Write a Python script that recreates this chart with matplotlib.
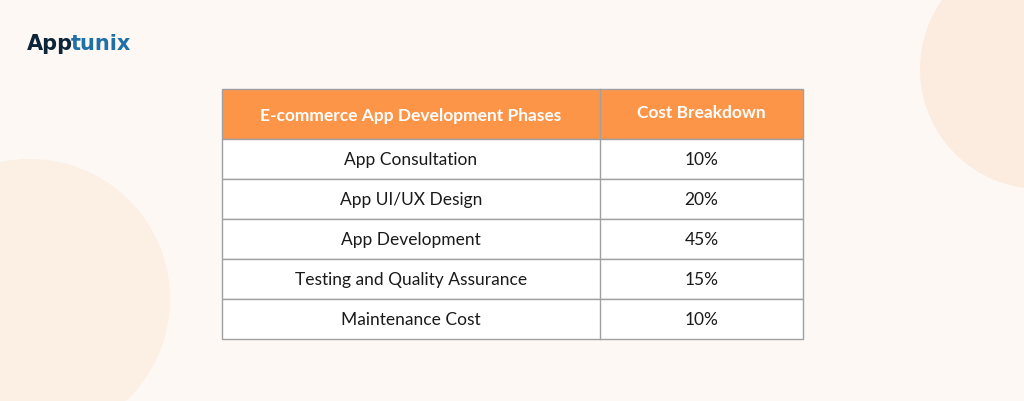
import matplotlib.pyplot as plt
from matplotlib.patches import Rectangle, Circle

header = ["E-commerce App Development Phases", "Cost Breakdown"]
phases = ["App Consultation", "App UI/UX Design", "App Development",
          "Testing and Quality Assurance", "Maintenance Cost"]
costs = ["10%", "20%", "45%", "15%", "10%"]

W, H = 1024, 402
fig = plt.figure(figsize=(W / 100, H / 100), dpi=100)
ax = fig.add_axes([0, 0, 1, 1])
ax.set_xlim(0, W); ax.set_ylim(H, 0); ax.axis("off")
fig.patch.set_facecolor("#fdf8f4")

# soft background circles
ax.add_patch(Circle((30, 300), 140, color="#fcefe4", lw=0))
ax.add_patch(Circle((1040, 70), 120, color="#fcece0", lw=0))

# logo
ax.text(27, 44, "App", fontsize=15, fontweight="bold", color="#0d2538",
        va="center", ha="left", family="DejaVu Sans")
ax.text(71, 44, "tunix", fontsize=15, fontweight="bold", color="#1f6fa8",
        va="center", ha="left", family="DejaVu Sans")

x0, xm, x1 = 222, 600, 803
y0, hh, rh = 90, 50, 40
line = "#a0a0a0"

ax.add_patch(Rectangle((x0, y0), x1 - x0, hh, fc="#fd9548", ec=line, lw=1))
ax.text((x0 + xm) / 2, y0 + hh / 2 + 1, header[0], color="white", fontsize=12.5,
        fontweight="bold", ha="center", va="center", family="Lato")
ax.text((xm + x1) / 2, y0 + hh / 2 - 2, header[1], color="white", fontsize=12.5,
        fontweight="bold", ha="center", va="center", family="Lato")

for i, (p, c) in enumerate(zip(phases, costs)):
    yt = y0 + hh + i * rh
    ax.add_patch(Rectangle((x0, yt), x1 - x0, rh, fc="white", ec=line, lw=1))
    ax.text((x0 + xm) / 2, yt + rh / 2, p, color="#1a1a1a", fontsize=12.5,
            ha="center", va="center", family="Lato")
    ax.text((xm + x1) / 2, yt + rh / 2, c, color="#1a1a1a", fontsize=12.5,
            ha="center", va="center", family="Lato")

ax.plot([xm, xm], [y0, y0 + hh + len(phases) * rh], color=line, lw=1)

fig.savefig("out.png", dpi=100, facecolor=fig.get_facecolor())
